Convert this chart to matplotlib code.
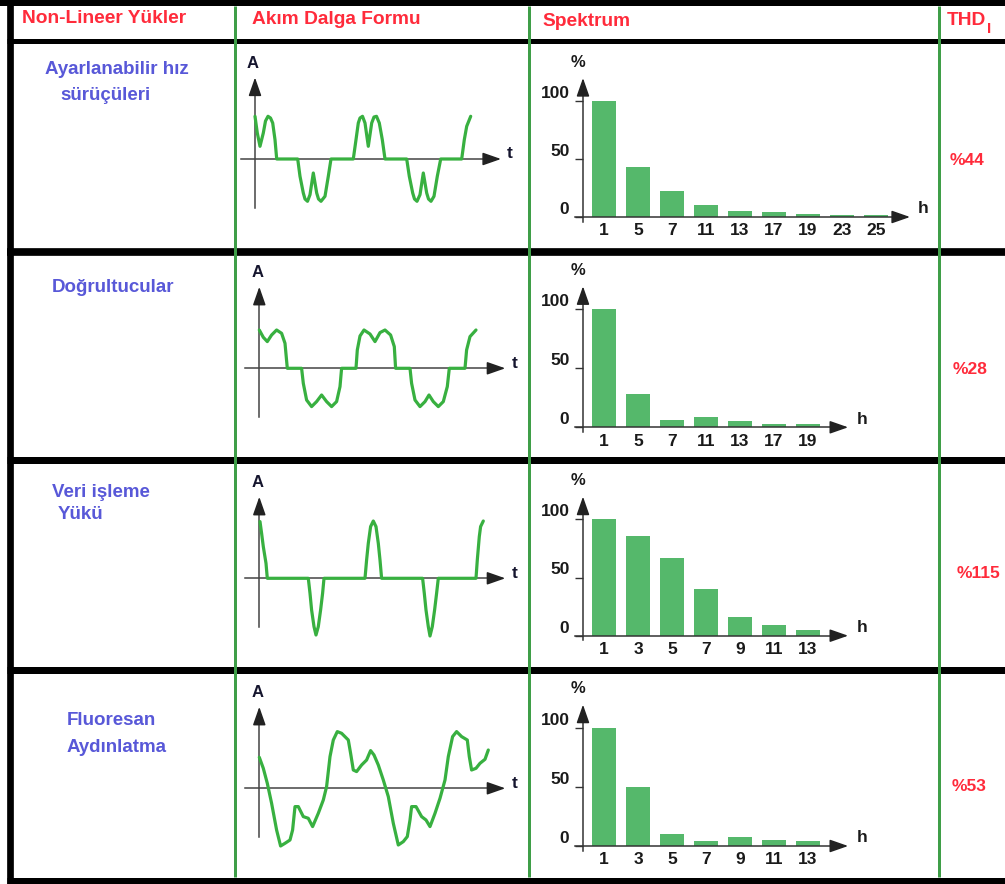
import matplotlib
matplotlib.use("Agg")
import matplotlib.pyplot as plt

plt.rcParams['font.family'] = ['Liberation Sans', 'DejaVu Sans']

W, H = 1005, 884

# ---- data -------------------------------------------------------------
HEADERS = ["Non-Lineer Yükler", "Akım Dalga Formu", "Spektrum", "THD"]
LOADS = [["Ayarlanabilir hız", "sürüçüleri"], ["Doğrultucular"],
         ["Veri işleme", "Yükü"], ["Fluoresan", "Aydınlatma"]]
THD = ["%44", "%28", "%115", "%53"]

# harmonic spectra (% of fundamental)
H1 = [1, 5, 7, 11, 13, 17, 19, 23, 25]
P1 = [100, 43, 22, 10, 5, 4, 3, 1.5, 1.5]
H2 = [1, 5, 7, 11, 13, 17, 19]
P2 = [100, 28, 6, 9, 5.5, 3, 3]
H3 = [1, 3, 5, 7, 9, 11, 13]
P3 = [100, 86, 67, 40, 16, 9, 5]
H4 = [1, 3, 5, 7, 9, 11, 13]
P4 = [100, 50, 10, 4, 8, 5, 4]

# current waveforms (t, A from the axis origin)
T1 = [0, 2.3, 5, 8.3, 10.5, 13, 15.5, 17.7, 20, 21.7,
      42.7, 45, 48.3, 50, 52.5, 55, 58.3, 61.7, 63.5, 66, 70, 73.3, 76,
      98.3, 101, 103.3, 105, 107.5, 110, 113.3, 116.7, 119, 121.5, 124.3, 127.3, 130,
      151.7, 154.3, 157.7, 159.5, 162, 165, 168.3, 171.7, 173.5, 176, 179, 182.3, 185.7,
      206.7, 209.3, 211.7, 215.7]
A1 = [42.7, 26, 12.7, 26, 38, 42.7, 41, 36, 19.3, 0,
      0, -17.3, -34, -40, -42.3, -35.7, -14, -34, -40, -42.3, -37.3, -17.3, 0,
      0, 19.3, 36, 41, 42.7, 36, 12.7, 36, 42, 42.7, 36, 19.3, 0,
      0, -17.3, -34, -40, -42.3, -35.7, -14, -34, -40, -42.3, -37.3, -17.3, 0,
      0, 19.3, 32.7, 42.7]

T2 = [0, 4, 8, 12.3, 17.3, 22.3, 25.7, 28,
      42.3, 44, 47.3, 52.3, 57.3, 62.3, 67.3, 72.3, 77.3, 80.7, 82.3,
      96.7, 98, 100.7, 104.7, 110.7, 115.7, 120.7, 125.7, 131.3, 135, 136.3,
      150.7, 152.3, 155.7, 160.7, 165.7, 169.7, 174, 179, 184, 188, 190,
      205.7, 207.3, 210.7, 216.7]
A2 = [38.3, 31, 26.7, 33.3, 38.3, 35, 25, 0,
      0, -15, -31.7, -38.3, -33.3, -26.7, -33.3, -38.3, -33.3, -18.3, 0,
      0, 18.3, 32.3, 38.3, 34.3, 26.7, 35.7, 38.3, 33.3, 21.7, 0,
      0, -15, -31.7, -38.3, -33.3, -26.7, -33.3, -38.3, -33.3, -18.3, 0,
      0, 18.3, 31.7, 38.3]

T3 = [0.7, 2.3, 4, 6.7, 8,
      49, 50.7, 52.3, 54.7, 56.7, 59, 61.3, 63.3, 64.7,
      105.7, 107.3, 109, 111.3, 114, 116.7, 119, 120.7, 122.3,
      163.3, 165, 166.7, 169, 170.7, 173, 175.3, 177.3, 179,
      216.7, 218, 220, 221.3, 224]
A3 = [56.7, 45, 31.7, 15, 0,
      0, -15, -31.7, -48.3, -56.7, -48.3, -31.7, -15, 0,
      0, 18.3, 35, 51.7, 57.3, 51.7, 35, 18.3, 0,
      0, -15, -31.7, -48.3, -57.7, -48.3, -31.7, -15, 0,
      0, 18.3, 41.7, 51.7, 57.3]

T4 = [0, 4, 8, 12.3, 17.3, 21.3, 25.7, 30.7, 33.3, 35.7,
      39, 44, 49, 53.3, 59, 64, 67.3, 70.7, 74, 78,
      82.3, 89, 91.3, 94, 97.3, 102.3, 107.3, 111.3, 114.7, 119,
      124, 129, 134, 139, 144, 148, 150.7, 152.3, 156.7, 162.3,
      166.7, 170.7, 175.7, 180.7, 185.7, 189, 193.3, 197.3, 202.3, 208,
      210, 212.3, 216.7, 220.7, 225.7, 229]
A4 = [31, 20, 5, -15, -41.7, -57.7, -55, -51.7, -41.7, -18.3,
      -18.3, -28.3, -30, -38.3, -25, -11.7, 1.7, 31.7, 48.3, 56.7,
      55, 48.3, 35, 18.3, 16.7, 23.3, 28.3, 37.7, 33.3, 23.3,
      8.3, -8.3, -35, -56.7, -53.3, -48.3, -31.7, -18.3, -18.3, -28.3,
      -31.7, -38.3, -25, -10, 8.3, 31.7, 51.7, 56.7, 51.7, 48.3,
      31.7, 18.3, 20, 25, 29, 38.3]

HARM = [H1, H2, H3, H4]
PCT = [P1, P2, P3, P4]
WAVE_T = [T1, T2, T3, T4]
WAVE_A = [A1, A2, A3, A4]

# ---- layout (pixels of the 1005x884 image) ----------------------------
ROW_TOP = [44, 256, 463, 673]
ROW_BOT = [248, 456, 666, 877]
WAVE_ORIGIN = [(255, 159), (259.3, 368.3), (259.3, 578.3), (259.3, 788.3)]
SPEC_BASE = [217, 427.3, 635.7, 846]
SPEC_SCALE = [1.163, 1.18, 1.164, 1.183]   # px per %
SPEC_TIP = [9.0, 7.18, 7.18, 7.18]
LOAD_POS = [[(45, 74), (60, 100)], [(52, 292)],
            [(52, 497), (58, 519)], [(67, 725), (67, 752)]]
THD_POS = [(950, 165), (953, 374), (957, 578), (952, 791)]

RED = '#ff2b3b'
BLUE = '#5858d8'
BAR_GREEN = '#55b86b'
WAVE_GREEN = '#38b040'
LINE_GREEN = '#3f9e48'
DARK = '#15152e'
PX = 0.72  # points per pixel at 100 dpi

fig = plt.figure(figsize=(W / 100, H / 100), dpi=100)
fig.patch.set_facecolor('white')


def px_axes(x, y, w, h):
    ax = fig.add_axes([x / W, 1 - (y + h) / H, w / W, h / H])
    ax.set_facecolor('none')
    return ax


def arrow(ax, start, tip):
    ax.annotate('', xy=tip, xytext=start,
                arrowprops=dict(arrowstyle='-|>,head_length=0.8,head_width=0.28',
                                color='#222222', lw=1.1, shrinkA=0, shrinkB=0,
                                mutation_scale=14))


# table frame and texts
grid = px_axes(0, 0, W, H)
grid.set_xlim(0, W)
grid.set_ylim(H, 0)
grid.axis('off')

grid.plot([0, W], [3, 3], color='black', lw=6 * PX, solid_capstyle='butt')
for y, t in [(40.5, 5), (252, 7.7), (459.5, 7), (669.5, 7), (880.5, 7)]:
    grid.plot([6.7, W], [y, y], color='black', lw=t * PX, solid_capstyle='butt')
grid.plot([10, 10], [0, H], color='black', lw=6.7 * PX, solid_capstyle='butt')
for x in [235, 529.3, 938.5]:
    grid.plot([x, x], [6, 877], color=LINE_GREEN, lw=3 * PX, solid_capstyle='butt')

hdr_pos = [(22, 23), (252, 24), (542, 26.5), (947, 25)]
for txt, (x, y) in zip(HEADERS, hdr_pos):
    grid.text(x, y, txt, color=RED, fontsize=13.8, fontweight='bold',
              ha='left', va='baseline')
grid.text(987, 32.7, 'I', color=RED, fontsize=11, fontweight='bold',
          ha='left', va='baseline')

for lines, pos in zip(LOADS, LOAD_POS):
    for txt, (x, y) in zip(lines, pos):
        grid.text(x, y, txt, color=BLUE, fontsize=13.5, fontweight='bold',
                  ha='left', va='baseline')

for txt, (x, y) in zip(THD, THD_POS):
    grid.text(x, y, txt, color=RED, fontsize=12.5, fontweight='bold',
              ha='left', va='baseline')

# waveform cells
for i in range(4):
    top, bot = ROW_TOP[i], ROW_BOT[i]
    ox, oy = WAVE_ORIGIN[i]
    ax = px_axes(238, top, 290, bot - top)
    ax.set_xlim(238 - ox, 528 - ox)
    ax.set_ylim(-(bot - oy), oy - top)
    ax.axis('off')
    ax.plot([-14, 236], [0, 0], color='#444444', lw=1.1)
    arrow(ax, (230, 0), (246, 0))
    ax.plot([0, 0], [-48.5, 70], color='#444444', lw=1.1)
    arrow(ax, (0, 66), (0, 81.5))
    ax.plot(WAVE_T[i], WAVE_A[i], color=WAVE_GREEN, lw=2.3,
            solid_joinstyle='round', solid_capstyle='round')
    ax.text(-2, 96, 'A', color=DARK, fontsize=12, fontweight='bold',
            ha='center', va='center')
    ax.text(255, 5, 't', color=DARK, fontsize=12.5, fontweight='bold',
            ha='center', va='center')

# spectrum cells
for i in range(4):
    top, bot = ROW_TOP[i], ROW_BOT[i]
    yb, s = SPEC_BASE[i], SPEC_SCALE[i]
    harm, pct = HARM[i], PCT[i]
    n = len(harm)
    ax = px_axes(531, top, 405, bot - top)
    ax.set_xlim((531 - 604) / 34, (936 - 604) / 34)
    ax.set_ylim(-(bot - yb) / s, (yb - top) / s)
    for sp in ax.spines.values():
        sp.set_visible(False)
    ax.spines['left'].set_position(('data', -0.618))
    ax.spines['bottom'].set_position(('data', 0))

    ax.bar(range(n), pct, width=0.68, color=BAR_GREEN, zorder=2)

    ax.set_yticks([0, 50, 100])
    ax.set_yticklabels(['0', '50', '100'], fontweight='bold')
    ax.tick_params(axis='y', length=5.8, width=1.0, color='#333333', pad=4,
                   labelsize=12.5, labelcolor='#1a1a1a')
    for lbl in ax.get_yticklabels():
        lbl.set_verticalalignment('bottom')
    ax.set_xticks(range(n))
    ax.set_xticklabels([str(h) for h in harm], fontweight='bold')
    ax.tick_params(axis='x', length=0, pad=4.5, labelsize=12.5,
                   labelcolor='#1a1a1a')

    tip = SPEC_TIP[i]
    ax.plot([-0.853, tip - 0.35], [0, 0], color='#333333', lw=1.1, zorder=3)
    arrow(ax, (tip - 0.4, 0), (tip, 0))
    ax.plot([-0.618, -0.618], [-4, 110], color='#333333', lw=1.1, zorder=3)
    arrow(ax, (-0.618, 106), (-0.618, 119.5))
    ax.text(-0.76, 133, '%', color='#1a1a1a', fontsize=12, fontweight='bold',
            ha='center', va='center')
    ax.text(tip + 0.4, 7, 'h', color='#1a1a1a', fontsize=12.5, fontweight='bold',
            ha='center', va='center')

fig.savefig('out.png', dpi=100, facecolor='white')
